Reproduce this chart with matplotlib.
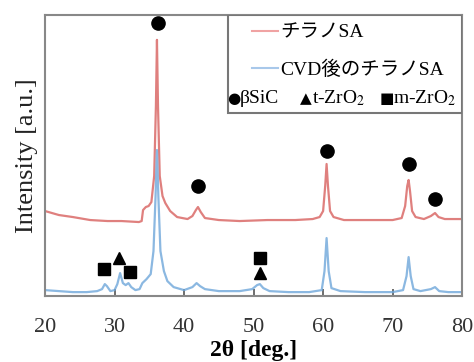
import matplotlib
matplotlib.use("Agg")
import matplotlib.pyplot as plt
from matplotlib.patches import Rectangle

plt.rcParams["font.family"] = ["Liberation Serif", "Noto Sans CJK JP", "DejaVu Sans"]
plt.rcParams["mathtext.fontset"] = "stix"

# XRD patterns (2theta [deg], intensity [a.u.])
red_x = [20.0, 22.0, 24.0, 26.5, 29.0, 31.0, 33.5, 33.9, 34.1, 34.5, 34.9, 35.3,
         35.7, 35.95, 36.1, 36.25, 36.5, 36.9, 37.3, 38.0, 39.0, 40.5, 41.2, 41.7,
         42.0, 42.4, 43.0, 45.0, 48.0, 52.0, 56.0, 58.5, 59.5, 60.0, 60.3, 60.5,
         60.7, 61.0, 61.5, 63.0, 66.0, 70.0, 71.3, 71.8, 72.1, 72.3, 72.5, 72.8,
         73.3, 74.5, 75.5, 76.1, 76.6, 77.5, 80.0]
red_y = [85, 81, 79, 76, 75, 75, 74, 75, 86, 89, 90, 94,
         120, 190, 256, 190, 120, 100, 93, 85, 79, 77, 80, 86,
         89, 84, 78, 76, 75, 76, 76, 77, 79, 85, 110, 132,
         110, 85, 79, 76, 76, 76, 78, 90, 110, 116, 105, 85,
         79, 77, 80, 83, 79, 77, 77]

blue_x = [20.0, 22.0, 24.0, 26.0, 27.5, 28.2, 28.6, 28.9, 29.4, 30.0, 30.4, 30.8,
          31.2, 31.6, 32.0, 32.4, 33.0, 33.6, 34.0, 34.6, 35.2, 35.6, 35.9, 36.1,
          36.3, 36.6, 37.1, 37.6, 38.5, 40.0, 41.2, 41.8, 42.3, 43.0, 45.0, 48.0,
          49.8, 50.5, 50.9, 51.4, 52.3, 55.0, 58.0, 59.8, 60.2, 60.5, 60.8, 61.2,
          62.5, 66.0, 70.0, 71.5, 72.0, 72.3, 72.6, 73.0, 74.0, 75.5, 76.1, 76.7,
          78.0, 80.0]
blue_y = [6, 5, 4, 4, 5, 7, 12, 10, 5, 6, 12, 23,
          13, 11, 13, 9, 6, 7, 13, 17, 22, 45, 100, 146,
          100, 45, 25, 15, 9, 6, 9, 13, 10, 7, 5, 5,
          7, 11, 12, 8, 5, 4, 4, 6, 25, 58, 25, 8,
          5, 4, 4, 6, 20, 39, 20, 7, 5, 7, 9, 5,
          4, 4]

# peak markers
sic_x = [36.2, 42.0, 60.5, 72.3, 76.1]
sic_y = [273, 110, 145, 132, 97]
tzro2_x = [30.6, 50.9]
tzro2_y = [38, 23]
mzro2_x = [28.5, 32.2, 50.9]
mzro2_y = [27, 24, 38]

red = "#d8605e"
blue = "#6ea6da"

fig = plt.figure(figsize=(4.74, 3.62), dpi=100)
ax = fig.add_axes([0.095, 0.182, 0.88, 0.777])

ax.plot(red_x, red_y, color=red, linewidth=1.6, alpha=0.8)
ax.plot(blue_x, blue_y, color=blue, linewidth=1.6, alpha=0.8)

ax.plot(sic_x, sic_y, "o", color="black", markersize=9.5, linestyle="none")
ax.plot(tzro2_x, tzro2_y, "^", color="black", markersize=8.5, linestyle="none")
ax.plot(mzro2_x, mzro2_y, "s", color="black", markersize=8, linestyle="none")

ax.set_xlim(20, 80)
ax.set_ylim(0, 281)
ax.set_xticks([20, 30, 40, 50, 60, 70, 80])
ax.set_yticks([])
ax.tick_params(axis="x", direction="in", length=5, width=1.2, color="#555555",
               labelsize=16, pad=16, labelcolor="#333333")
for s in ax.spines.values():
    s.set_color("#888888")
    s.set_linewidth(1.5)

ax.set_xlabel("2θ [deg.]", fontsize=17, fontweight="bold", labelpad=2)
ax.set_ylabel("Intensity [a.u.]", fontsize=19, labelpad=5, color="#222222")

# legend box
ax.add_patch(Rectangle((0.439, 0.651), 0.561, 0.349, transform=ax.transAxes,
                       facecolor="white", edgecolor="#777777", linewidth=1.5,
                       zorder=5))
leg = ax.legend(
    [plt.Line2D([], [], color="#f0a3a3", linewidth=1.5),
     plt.Line2D([], [], color="#a8c8ea", linewidth=1.5)],
    ["チラノSA", "CVD後のチラノSA"],
    loc="upper left", bbox_to_anchor=(0.496, 0.967), frameon=False,
    fontsize=14, handlelength=1.35, handletextpad=0.1, labelspacing=0.95,
    borderpad=0, borderaxespad=0,
)
leg.set_zorder(6)

row_y = 0.703
ax.text(0.453, row_y, "●", transform=ax.transAxes, fontsize=11, va="center",
        ha="center", family="DejaVu Sans", zorder=7)
ax.text(0.466, row_y, "βSiC", transform=ax.transAxes, fontsize=14, va="center",
        zorder=7)
ax.text(0.626, row_y, "▲", transform=ax.transAxes, fontsize=11, va="center",
        ha="center", family="DejaVu Sans", zorder=7)
ax.text(0.641, row_y, "t-ZrO$_2$", transform=ax.transAxes, fontsize=14,
        va="center", zorder=7)
ax.text(0.820, row_y, "■", transform=ax.transAxes, fontsize=11, va="center",
        ha="center", family="DejaVu Sans", zorder=7)
ax.text(0.834, row_y, "m-ZrO$_2$", transform=ax.transAxes, fontsize=14,
        va="center", zorder=7)

fig.savefig("out.png", dpi=100)
